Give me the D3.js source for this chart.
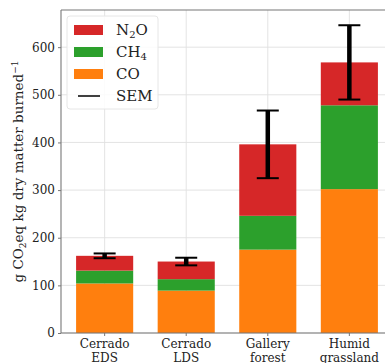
<!DOCTYPE html>
<html>
<head>
<meta charset="utf-8">
<script src="https://cdn.jsdelivr.net/npm/d3@7"></script>
<style>
  body { margin: 0; background: #fff; }
  svg { display: block; font-family: "DejaVu Serif", serif; }
</style>
</head>
<body>
<svg width="385" height="363"></svg>
<script>
// data
const categories = ["Cerrado\nEDS", "Cerrado\nLDS", "Gallery\nforest", "Humid\ngrassland"];
const coValues = [104, 89, 175, 302];
const ch4Values = [27, 24, 71, 176];
const n2oValues = [31, 37, 150, 90];
const semValues = [5, 8, 71, 78];
const yTicks = [0, 100, 200, 300, 400, 500, 600];

const colors = { CO: "#ff7f0e", CH4: "#2ca02c", N2O: "#d62728" };

const svg = d3.select("svg");
const margin = { left: 61, top: 10, bottom: 30 };
const plotW = 393 - margin.left; // right side is cut off in the original
const plotH = 333 - margin.top;

// x as continuous index like matplotlib, with 0.05 margins
const x = d3.scaleLinear().domain([-0.535, 3.535]).range([margin.left, margin.left + plotW]);
const y = d3.scaleLinear().domain([0, 678]).range([333, margin.top]);
const barW = x(0.35) - x(-0.35);

// grid
const grid = svg.append("g");
grid.selectAll(".hg").data(yTicks).enter().append("line")
  .attr("x1", margin.left).attr("x2", 393)
  .attr("y1", d => y(d)).attr("y2", d => y(d))
  .attr("stroke", "#e0e0e0").attr("stroke-width", 0.9);
grid.selectAll(".vg").data(categories).enter().append("line")
  .attr("x1", (d, i) => x(i)).attr("x2", (d, i) => x(i))
  .attr("y1", margin.top).attr("y2", 333)
  .attr("stroke", "#e0e0e0").attr("stroke-width", 0.9);

// stacked bars
const rows = categories.map((c, i) => ({ i, CO: coValues[i], CH4: ch4Values[i], N2O: n2oValues[i] }));
const stack = d3.stack().keys(["CO", "CH4", "N2O"])(rows);

svg.append("g").selectAll("g").data(stack).enter().append("g")
  .attr("fill", d => colors[d.key])
  .selectAll("rect").data(d => d).enter().append("rect")
  .attr("x", d => x(d.data.i) - barW / 2)
  .attr("width", barW)
  .attr("y", d => y(d[1]))
  .attr("height", d => y(d[0]) - y(d[1]));

// error bars (SEM) around totals
const totals = rows.map(r => r.CO + r.CH4 + r.N2O);
const err = svg.append("g").attr("stroke", "#000");
err.selectAll(null).data(totals).enter().append("line")
  .attr("x1", (d, i) => x(i)).attr("x2", (d, i) => x(i))
  .attr("y1", (d, i) => y(d - semValues[i])).attr("y2", (d, i) => y(d + semValues[i]))
  .attr("stroke-width", 4.5);
[-1, 1].forEach(s => {
  err.selectAll(null).data(totals).enter().append("line")
    .attr("x1", (d, i) => x(i) - 11).attr("x2", (d, i) => x(i) + 11)
    .attr("y1", (d, i) => y(d + s * semValues[i]))
    .attr("y2", (d, i) => y(d + s * semValues[i]))
    .attr("stroke-width", 2);
});

// frame
svg.append("line").attr("x1", margin.left).attr("x2", margin.left).attr("y1", margin.top).attr("y2", 333)
  .attr("stroke", "#777").attr("stroke-width", 1.1);
svg.append("line").attr("x1", margin.left).attr("x2", 393).attr("y1", margin.top).attr("y2", margin.top)
  .attr("stroke", "#777").attr("stroke-width", 1.1);
svg.append("line").attr("x1", margin.left).attr("x2", 393).attr("y1", 333).attr("y2", 333)
  .attr("stroke", "#777").attr("stroke-width", 1.1);

// y axis
const yAxis = svg.append("g").attr("transform", `translate(${margin.left},0)`)
  .call(d3.axisLeft(y).tickValues(yTicks).tickSize(3).tickPadding(3));
yAxis.select(".domain").remove();
yAxis.selectAll(".tick line").attr("stroke", "#777");
yAxis.selectAll("text").attr("font-family", "DejaVu Serif").attr("font-size", 12).attr("fill", "#222");

// x labels
const xl = svg.append("g").attr("font-size", 12).attr("fill", "#222").attr("text-anchor", "middle");
categories.forEach((c, i) => {
  xl.append("line").attr("x1", x(i)).attr("x2", x(i)).attr("y1", 333).attr("y2", 336).attr("stroke", "#777");
  const t = xl.append("text").attr("x", x(i)).attr("y", 348);
  c.split("\n").forEach((line, k) => {
    t.append("tspan").attr("x", x(i)).attr("dy", k === 0 ? 0 : 13.5).text(line);
  });
});

// y label
const yl = svg.append("text")
  .attr("transform", `translate(23,${(333 + margin.top) / 2}) rotate(-90)`)
  .attr("text-anchor", "middle").attr("font-size", 13.5).attr("fill", "#222");
yl.append("tspan").text("g CO");
yl.append("tspan").attr("font-size", 9).attr("dy", 3).text("2");
yl.append("tspan").attr("dy", -3).text("eq kg dry matter burned");
yl.append("tspan").attr("font-size", 9).attr("dy", -5).text("−1");

// legend
const legend = svg.append("g");
legend.append("rect").attr("x", 67).attr("y", 16).attr("width", 91).attr("height", 93)
  .attr("rx", 3).attr("fill", "#fff").attr("fill-opacity", 0.85).attr("stroke", "#e6e6e6");
const legItems = [
  { key: "N2O", label: ["N", "2", "O"] },
  { key: "CH4", label: ["CH", "4", ""] },
  { key: "CO", label: ["CO", "", ""] },
  { key: "SEM", label: ["SEM", "", ""] }
];
legItems.forEach((it, k) => {
  const cy = 30 + k * 22;
  if (it.key === "SEM") {
    legend.append("line").attr("x1", 78).attr("x2", 100).attr("y1", cy).attr("y2", cy)
      .attr("stroke", "#000").attr("stroke-width", 1.5);
  } else {
    legend.append("rect").attr("x", 74).attr("y", cy - 5).attr("width", 29).attr("height", 10)
      .attr("fill", colors[it.key]);
  }
  const t = legend.append("text").attr("x", 116).attr("y", cy + 5).attr("font-size", 15).attr("fill", "#222");
  t.append("tspan").text(it.label[0]);
  if (it.label[1]) {
    t.append("tspan").attr("font-size", 10).attr("dy", 3).text(it.label[1]);
    if (it.label[2]) t.append("tspan").attr("dy", -3).text(it.label[2]);
  }
});
</script>
</body>
</html>
